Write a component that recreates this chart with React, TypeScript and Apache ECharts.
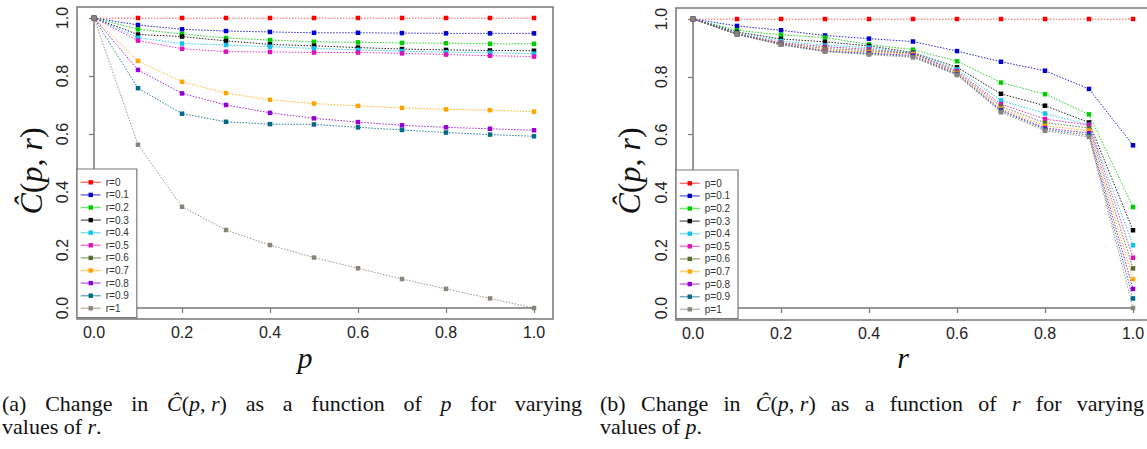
import React, { useEffect, useRef } from "react";
import * as echarts from "echarts";

// Grid of the simulation: p and r both run 0..1 in steps of 0.1
const pValues = [0, 0.1, 0.2, 0.3, 0.4, 0.5, 0.6, 0.7, 0.8, 0.9, 1.0];
const rValues = [0, 0.1, 0.2, 0.3, 0.4, 0.5, 0.6, 0.7, 0.8, 0.9, 1.0];
const tickValues = [0, 0.2, 0.4, 0.6, 0.8, 1.0];

// C-hat(p, r): one array per r, values along p = 0, 0.1, ..., 1
const C_r0 = [1, 1, 1, 1, 1, 1, 1, 1, 1, 1, 1];
const C_r01 = [1, 0.976, 0.961, 0.955, 0.952, 0.949, 0.949, 0.948, 0.947, 0.947, 0.947];
const C_r02 = [1, 0.961, 0.945, 0.931, 0.924, 0.918, 0.916, 0.914, 0.913, 0.911, 0.911];
const C_r03 = [1, 0.943, 0.936, 0.921, 0.909, 0.904, 0.898, 0.893, 0.890, 0.888, 0.887];
const C_r04 = [1, 0.932, 0.912, 0.907, 0.901, 0.895, 0.890, 0.886, 0.882, 0.880, 0.877];
const C_r05 = [1, 0.922, 0.894, 0.884, 0.883, 0.881, 0.881, 0.878, 0.874, 0.870, 0.867];
const C_r06 = [1, 0.889, 0.854, 0.833, 0.826, 0.820, 0.816, 0.813, 0.810, 0.808, 0.806];
const C_r07 = [1, 0.852, 0.780, 0.741, 0.718, 0.705, 0.697, 0.690, 0.685, 0.682, 0.677];
const C_r08 = [1, 0.821, 0.740, 0.700, 0.673, 0.654, 0.641, 0.630, 0.623, 0.618, 0.613];
const C_r09 = [1, 0.758, 0.670, 0.642, 0.634, 0.633, 0.623, 0.614, 0.605, 0.598, 0.592];
const C_r1 = [1, 0.563, 0.349, 0.269, 0.217, 0.174, 0.137, 0.100, 0.066, 0.033, 0.0];

const rowsByR = [C_r0, C_r01, C_r02, C_r03, C_r04, C_r05, C_r06, C_r07, C_r08, C_r09, C_r1];
const rNames = ["r=0", "r=0.1", "r=0.2", "r=0.3", "r=0.4", "r=0.5", "r=0.6", "r=0.7", "r=0.8", "r=0.9", "r=1"];
const pNames = ["p=0", "p=0.1", "p=0.2", "p=0.3", "p=0.4", "p=0.5", "p=0.6", "p=0.7", "p=0.8", "p=0.9", "p=1"];
// In the reference's left panel the r=0.6 curve is not drawn (legend entry only)
const leftOmitted = ["r=0.6"];

const seriesColors = [
  "#ff0000", "#0000cd", "#00cd00", "#000000", "#10c4f0", "#e010b8",
  "#556b2f", "#ffa500", "#9400d3", "#00688b", "#8b8378",
];

// Caption words ({i|...} marks math italic)
const captionA1 = ["(a)", "Change", "in", "{i|Ĉ}({i|p}, {i|r})", "as", "a", "function", "of", "{i|p}", "for", "varying"];
const captionA2 = "values of {i|r}.";
const captionB1 = ["(b)", "Change", "in", "{i|Ĉ}({i|p}, {i|r})", "as", "a", "function", "of", "{i|r}", "for", "varying"];
const captionB2 = "values of {i|p}.";

const SANS = "'Liberation Sans', Arial, Helvetica, sans-serif";
const SERIF = "'Liberation Serif', 'Times New Roman', serif";
const AXIS_GRAY = "#777";
const TEXT = "#222";
const CAP_SIZE = 22;

function makeAxisX(gridIndex: number, offset: number) {
  return {
    type: "value",
    gridIndex,
    min: 0,
    max: 1,
    interval: 0.2,
    offset,
    axisLine: { show: true, lineStyle: { color: AXIS_GRAY, width: 1.5 } },
    axisTick: { show: true, length: 5, lineStyle: { color: AXIS_GRAY, width: 1.2 } },
    axisLabel: {
      show: true,
      margin: 5,
      fontSize: 16,
      fontFamily: SANS,
      color: TEXT,
      formatter: (v: number) => (tickValues.some((t) => Math.abs(t - v) < 1e-9) ? v.toFixed(1) : ""),
    },
    splitLine: { show: false },
  };
}

function makeAxisY(gridIndex: number, offset: number) {
  return {
    type: "value",
    gridIndex,
    min: 0,
    max: 1,
    interval: 0.2,
    offset,
    axisLine: { show: true, lineStyle: { color: AXIS_GRAY, width: 1.5 } },
    axisTick: { show: true, length: 5, lineStyle: { color: AXIS_GRAY, width: 1.2 } },
    axisLabel: {
      show: true,
      rotate: 90,
      margin: 7,
      fontSize: 16,
      fontFamily: SANS,
      color: TEXT,
      formatter: (v: number) => v.toFixed(1),
    },
    splitLine: { show: false },
  };
}

function lineSeries(name: string, color: string, data: number[][], axisIndex: number) {
  return {
    type: "line",
    name,
    xAxisIndex: axisIndex,
    yAxisIndex: axisIndex,
    data,
    symbol: "rect",
    symbolSize: 4.5,
    showSymbol: true,
    color,
    itemStyle: { color },
    lineStyle: { color, width: 1, type: [1.5, 1.5], opacity: 0.85 },
    emphasis: { disabled: true },
    silent: true,
    z: 2,
  };
}

function legendOf(names: string[], left: number, top: number) {
  return {
    data: names,
    orient: "vertical",
    left,
    top,
    itemWidth: 20,
    itemHeight: 5.5,
    itemGap: 0,
    padding: [7, 8, 3, 3],
    borderColor: AXIS_GRAY,
    borderWidth: 1.2,
    backgroundColor: "#fff",
    selectedMode: false,
    textStyle: { fontSize: 10, fontFamily: SANS, color: "#333", lineHeight: 12.6 },
    lineStyle: { type: "solid", width: 1.5, opacity: 0.55 },
    z: 5,
  };
}

const italic = { fontStyle: "italic", fontFamily: SERIF };

// measure a word written with {i|...} markup
function measureWord(ctx: CanvasRenderingContext2D | null, word: string, size: number) {
  const parts = word.split(/(\{i\|[^}]*\})/).filter((s) => s.length > 0);
  let w = 0;
  for (const part of parts) {
    const m = part.match(/^\{i\|([^}]*)\}$/);
    const txt = m ? m[1] : part;
    if (ctx) {
      ctx.font = `${m ? "italic " : ""}${size}px ${SERIF}`;
      w += ctx.measureText(txt).width;
    } else {
      w += txt.length * size * 0.45;
    }
  }
  return w;
}

function captionStyle(text: string, size: number) {
  return {
    text,
    fontSize: size,
    lineHeight: size,
    fontFamily: SERIF,
    fill: "#111",
    align: "left",
    verticalAlign: "middle",
    rich: { i: { ...italic, fontSize: size, lineHeight: size } },
  };
}

function justifiedLine(words: string[], x0: number, width: number, y: number, size: number) {
  const canvas = document.createElement("canvas");
  const ctx = canvas.getContext("2d");
  const widths = words.map((w) => measureWord(ctx, w, size));
  const total = widths.reduce((a, b) => a + b, 0);
  const gap = Math.max(size * 0.25, (width - total) / (words.length - 1));
  let x = x0;
  return words.map((w, k) => {
    const el = { type: "text", x, y, style: captionStyle(w, size) };
    x += widths[k] + gap;
    return el;
  });
}

export default function App() {
  const ref = useRef<HTMLDivElement>(null);

  useEffect(() => {
    if (!ref.current) return;
    const chart = echarts.init(ref.current, undefined, { renderer: "svg" });

    const leftSeries = rNames.map((name, i) =>
      lineSeries(
        name,
        seriesColors[i],
        leftOmitted.includes(name) ? [] : pValues.map((p, j) => [p, rowsByR[i][j]]),
        0
      )
    );
    const rightSeries = pNames.map((name, j) =>
      lineSeries(
        name,
        seriesColors[j],
        rValues.map((r, i) => [r, rowsByR[i][j]]),
        1
      )
    );

    const yTitle = (x: number, y: number) => ({
      type: "text",
      x,
      y,
      rotation: Math.PI / 2,
      style: {
        text: "{i|Ĉ}({i|p}, {i|r})",
        fontSize: 32,
        fontFamily: SERIF,
        fill: "#111",
        align: "center",
        verticalAlign: "middle",
        rich: { i: { ...italic, fontSize: 32 } },
      },
    });

    const xTitle = (x: number, y: number, t: string) => ({
      type: "text",
      x,
      y,
      style: {
        text: t,
        fontSize: 30,
        fontFamily: SERIF,
        fontStyle: "italic",
        fill: "#111",
        align: "center",
        verticalAlign: "middle",
      },
    });

    chart.setOption({
      animation: false,
      backgroundColor: "#fff",
      grid: [
        { left: 94, top: 18, width: 440, height: 290, containLabel: false, outerBoundsMode: "none" },
        { left: 693, top: 19, width: 440, height: 289, containLabel: false, outerBoundsMode: "none" },
      ],
      xAxis: [makeAxisX(0, 11.6), makeAxisX(1, 12)],
      yAxis: [makeAxisY(0, 17), makeAxisY(1, 17)],
      legend: [legendOf(rNames, 77, 169), legendOf(pNames, 676, 170)],
      series: [...leftSeries, ...rightSeries],
      graphic: [
        {
          type: "rect",
          shape: { x: 77, y: 7, width: 476, height: 312 },
          style: { fill: "none", stroke: AXIS_GRAY, lineWidth: 1.5 },
          z: 1,
          silent: true,
        },
        {
          type: "rect",
          shape: { x: 676, y: 8, width: 476, height: 312 },
          style: { fill: "none", stroke: AXIS_GRAY, lineWidth: 1.5 },
          z: 1,
          silent: true,
        },
        yTitle(31, 171),
        yTitle(629, 171),
        xTitle(305, 357, "p"),
        xTitle(903, 357, "r"),
        ...justifiedLine(captionA1, 2, 580, 403, CAP_SIZE),
        { type: "text", x: 2, y: 426, style: captionStyle(captionA2, CAP_SIZE) },
        ...justifiedLine(captionB1, 600, 544, 403, CAP_SIZE),
        { type: "text", x: 600, y: 426, style: captionStyle(captionB2, CAP_SIZE) },
      ],
    });

    return () => chart.dispose();
  }, []);

  return (
    <div
      ref={ref}
      style={{ position: "absolute", left: 0, top: 0, width: 1147, height: 449, overflow: "hidden", background: "#fff" }}
    />
  );
}
